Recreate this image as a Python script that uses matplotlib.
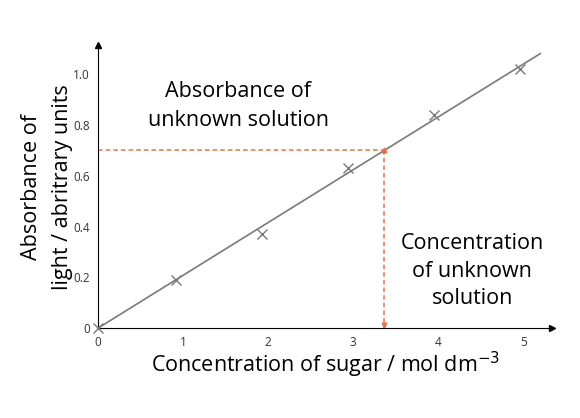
import numpy as np
import matplotlib
matplotlib.use('Agg')
import matplotlib.pyplot as plt

plt.rcParams['font.family'] = ['Open Sans', 'DejaVu Sans']

# calibration readings
conc = [0, 0.92, 1.93, 2.94, 3.95, 4.96]
absorb = [0, 0.19, 0.37, 0.63, 0.84, 1.02]
xticks = [0, 1, 2, 3, 4, 5]
yticks = [0, 0.2, 0.4, 0.6, 0.8, 1.0]
ytick_labels = ['0', '0.2', '0.4', '0.6', '0.8', '1.0']

# unknown sample
unknown_abs = 0.70
slope = 0.208
unknown_conc = unknown_abs / slope
line_x = [0, 5.2]

fig = plt.figure(figsize=(5.8, 4.18), dpi=100)
ax = fig.add_axes([0.169, 0.215, 0.783, 0.677])
ax.set_xlim(0, 5.34)
ax.set_ylim(0, 1.115)

# best-fit line and points
ax.plot(line_x, [slope * v for v in line_x], color='#7a7a7a', lw=1.2, zorder=2)
ax.plot(conc, absorb, 'x', color='#7a7a7a', ms=7, mew=1.0, zorder=3, clip_on=False)

# dashed read-off lines
orange = '#e2734a'
ax.plot([0, unknown_conc], [unknown_abs, unknown_abs], ls=(0, (3, 2)), color=orange, lw=1.1)
ax.plot([unknown_conc, unknown_conc], [unknown_abs, 0], ls=(0, (3, 2)), color=orange, lw=1.1)
ax.plot(unknown_conc, unknown_abs, marker='^', color=orange, ms=3.5)
ax.plot(unknown_conc, 0.012, marker='v', color=orange, ms=3.5, clip_on=False)

# axes with arrows
for s in ['top', 'right']:
    ax.spines[s].set_visible(False)
ax.spines['left'].set_color('black')
ax.spines['bottom'].set_color('black')
ax.plot(1, 0, '>k', ms=4, transform=ax.transAxes, clip_on=False)
ax.plot(0, 1, '^k', ms=4, transform=ax.transAxes, clip_on=False)

ax.set_xticks(xticks)
ax.set_yticks(yticks)
ax.set_yticklabels(ytick_labels)
ax.tick_params(length=0, labelsize=8.5, colors='#333333', pad=6)

ax.set_xlabel('Concentration of sugar / mol dm$^{-3}$', fontsize=15.5, labelpad=0)
ax.set_ylabel('Absorbance of\nlight / abritrary units', fontsize=15.5, labelpad=0, linespacing=1.6)

ax.text(1.65, 0.875, 'Absorbance of\nunknown solution', fontsize=15.5, ha='center', va='center',
        linespacing=1.45)
ax.text(4.4, 0.225, 'Concentration\nof unknown\nsolution', fontsize=15.5, ha='center', va='center',
        linespacing=1.4)

fig.savefig('out.png', dpi=100, facecolor='white')
